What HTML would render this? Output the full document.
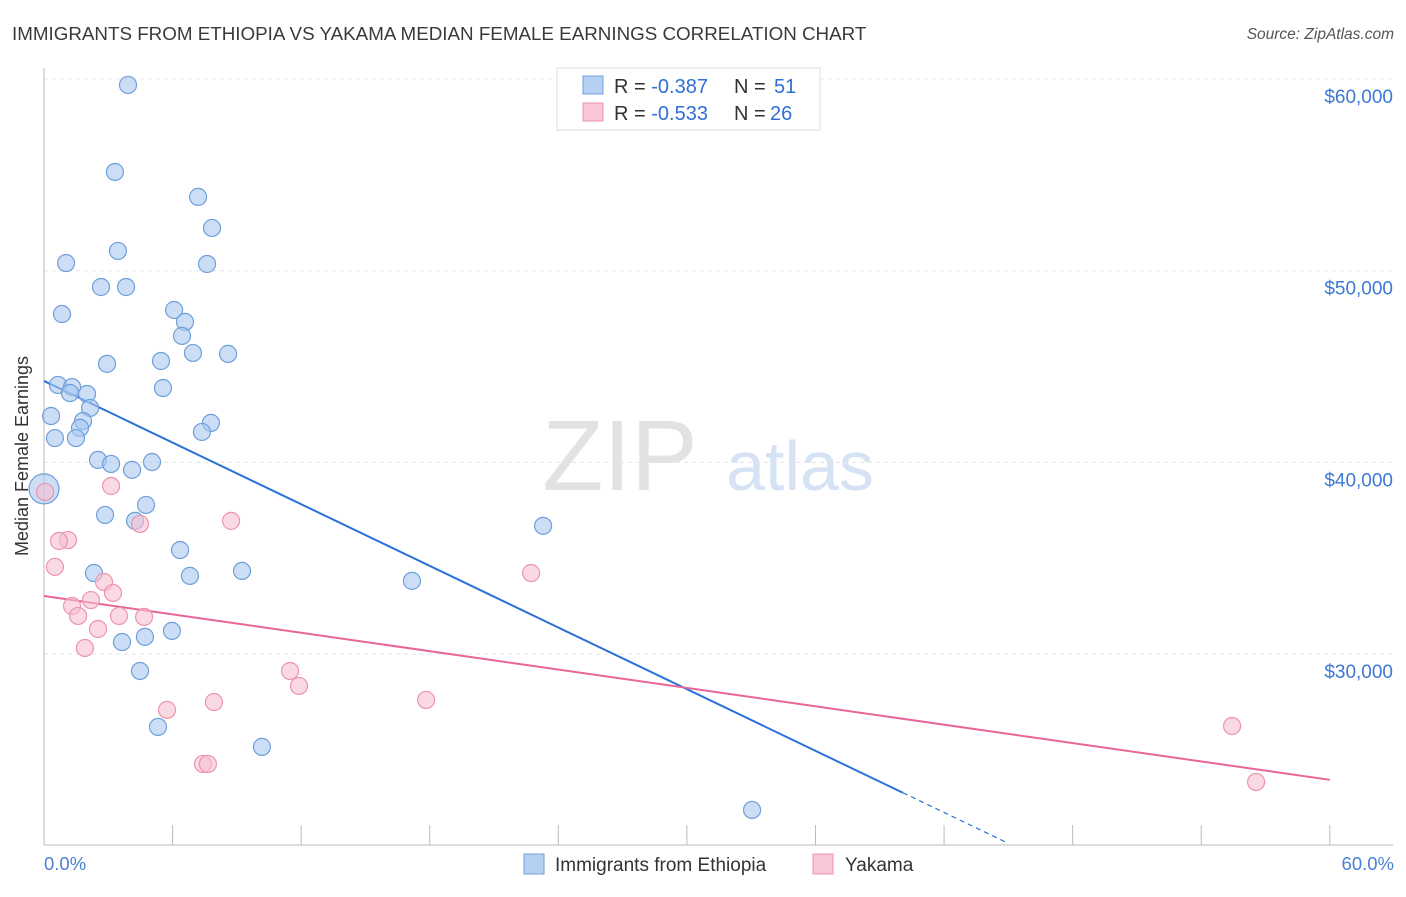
<!DOCTYPE html>
<html><head><meta charset="utf-8"><style>
body{margin:0;background:#fff;font-family:"Liberation Sans",sans-serif;}
svg text{font-family:"Liberation Sans",sans-serif;}
</style></head><body>
<svg id="chart" width="1406" height="892" xmlns="http://www.w3.org/2000/svg">
<text x="12" y="40" font-size="18.8" fill="#3a3a3a">IMMIGRANTS FROM ETHIOPIA VS YAKAMA MEDIAN FEMALE EARNINGS CORRELATION CHART</text>
<text x="1394" y="39" font-size="15.5" fill="#555" font-style="italic" text-anchor="end">Source: ZipAtlas.com</text>
<text x="620" y="490" font-size="100" fill="#e2e2e2" font-family="Liberation Serif" text-anchor="middle">ZIP</text>
<text x="800" y="490" font-size="70" fill="#d6e3f5" text-anchor="middle">atlas</text>
<g id="grid"></g>
<g id="axes"></g>
<g id="lines"></g>
<g id="points"></g>
<text transform="translate(34,456) rotate(-90)" font-size="18" fill="#333" text-anchor="middle" x="0" y="-6">Median Female Earnings</text>
<text x="44" y="870" font-size="18.5" fill="#4a7fd4">0.0%</text>
<text x="1394" y="870" font-size="18.5" fill="#4a7fd4" text-anchor="end">60.0%</text>
<g>
<rect x="557" y="68" width="263" height="62" fill="#fff" stroke="#ddd"/>
<rect x="583" y="76" width="20" height="18" fill="#b6d0f3" stroke="#6f9fdb"/>
<rect x="583" y="103" width="20" height="18" fill="#f8c6d5" stroke="#ec94b0"/>
<text x="614" y="93" font-size="20" fill="#333">R = <tspan fill="#2f6fd6">-0.387</tspan><tspan x="734">N = </tspan><tspan x="774" fill="#2f6fd6">51</tspan></text>
<text x="614" y="120" font-size="20" fill="#333">R = <tspan fill="#2f6fd6">-0.533</tspan><tspan x="734">N = </tspan><tspan x="770" fill="#2f6fd6">26</tspan></text>
</g>
<g>
<rect x="524" y="854" width="20" height="20" fill="#b6d0f3" stroke="#6f9fdb"/>
<text x="555" y="871" font-size="19" fill="#333">Immigrants from Ethiopia</text>
<rect x="813" y="854" width="20" height="20" fill="#f8c6d5" stroke="#ec94b0"/>
<text x="845" y="871" font-size="19" fill="#333">Yakama</text>
</g>
</svg>
<script>
const yTicks=[30000,40000,50000,60000];
const yTickLabels=["$30,000","$40,000","$50,000","$60,000"];
const xTicks=[0,6,12,18,24,30,36,42,48,54,60];
const blueX=[3.92,3.31,7.19,7.84,3.45,1.03,7.61,2.66,3.83,0.84,6.07,6.58,6.44,2.94,5.46,6.95,8.59,5.55,0.65,1.31,1.21,2.01,2.15,0.33,1.82,1.68,7.79,7.37,0.51,1.49,2.52,3.13,5.04,4.11,0,4.76,2.85,4.25,23.29,6.35,2.33,6.81,9.24,17.17,5.97,4.71,3.64,4.48,5.32,10.17,33.04];
const blueY=[59690,55150,53850,52230,51030,50400,50350,49150,49150,47740,47950,47330,46600,45140,45290,45710,45660,43880,44040,43930,43620,43570,42840,42420,42160,41800,42060,41590,41270,41270,40130,39920,40020,39610,38620,37780,37260,36950,36690,35430,34230,34080,34340,33820,31210,30900,30630,29120,26200,25160,21870];
const pinkX=[0.05,3.13,1.12,0.70,4.48,8.73,0.51,2.80,3.22,2.19,1.31,1.59,3.50,4.67,2.52,1.91,22.73,11.48,11.90,5.74,7.93,17.83,7.42,7.65,55.44,56.56];
const pinkY=[38460,38770,35950,35900,36790,36950,34550,33760,33190,32820,32510,31990,31990,31940,31310,30320,34230,29120,28340,27090,27500,27610,24270,24270,26250,23330];
const blueTrend=[44250,-536];
const pinkTrend=[33030,-159.8];
const NS="http://www.w3.org/2000/svg";
const X=v=>44+v*21.43;
const Y=v=>79+(60000-v)/10000*191.7;
function mk(tag,attrs,parent){const e=document.createElementNS(NS,tag);for(const k in attrs)e.setAttribute(k,attrs[k]);document.getElementById(parent).appendChild(e);return e;}
yTicks.forEach((t,i)=>{
  const l=mk('line',{x1:44,x2:1393,y1:Y(t),y2:Y(t),stroke:'#e4e4e4','stroke-dasharray':'4,4'},'grid');
  
  
  const tx=mk('text',{x:1393,y:Y(t)+24,'font-size':19,fill:'#3d78d6','text-anchor':'end'},'grid');
  tx.textContent=yTickLabels[i];
  
  
});
const ax=mk('line',{x1:44,x2:1393,y1:845,y2:845,stroke:'#bbb'},'axes');


const ay=mk('line',{x1:44,x2:44,y1:68,y2:845,stroke:'#bbb'},'axes');


xTicks.forEach(t=>{
  const l=mk('line',{x1:X(t),x2:X(t),y1:825,y2:845,stroke:'#bbb'},'axes');
  
  
});
function pt(x,y,fill,stroke,r,name){
  const c=mk('circle',{cx:X(x),cy:Y(y),r:r,fill:fill,'fill-opacity':0.6,stroke:stroke,'stroke-width':1.2},'points');
  
  
}
blueX.forEach((x,i)=>pt(x,blueY[i],'#a9c8ee','#6f9fdb',x===0?15:8.5,'ethiopia-point'));
pinkX.forEach((x,i)=>pt(x,pinkY[i],'#f6bfd0','#ec94b0',8.5,'yakama-point'));
const bEnd=40.08;
const b1=mk('line',{x1:X(0),y1:Y(blueTrend[0]),x2:X(bEnd),y2:Y(blueTrend[0]+blueTrend[1]*bEnd),stroke:'#2a72d9','stroke-width':2},'lines');


const b2=mk('line',{x1:X(bEnd),y1:Y(blueTrend[0]+blueTrend[1]*bEnd),x2:X(45),y2:Y(blueTrend[0]+blueTrend[1]*45),stroke:'#2a72d9','stroke-width':1.2,'stroke-dasharray':'5,4'},'lines');


const p1=mk('line',{x1:X(0),y1:Y(pinkTrend[0]),x2:X(60),y2:Y(pinkTrend[0]+pinkTrend[1]*60),stroke:'#e8659a','stroke-width':2},'lines');


</script>
</body></html>
